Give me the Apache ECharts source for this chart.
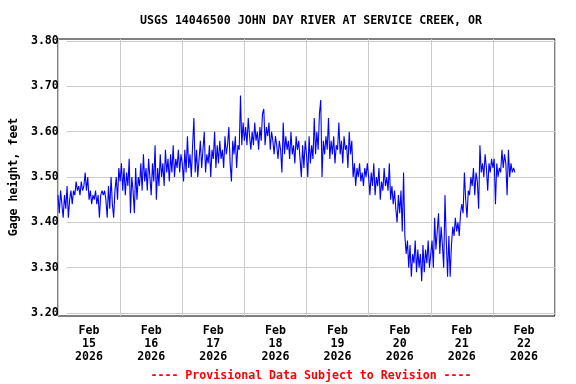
<!DOCTYPE html>
<html>
<head>
<meta charset="utf-8">
<script src="https://cdn.jsdelivr.net/npm/echarts@6/dist/echarts.min.js"></script>
<style>html,body{margin:0;padding:0;background:#fff}#c{width:576px;height:384px}</style>
</head>
<body>
<div id="c"></div>
<script>
// ---- data (gage height, feet), 30-minute readings starting at 00:00 each day ----
const titleText = 'USGS 14046500 JOHN DAY RIVER AT SERVICE CREEK, OR';
const yAxisName = 'Gage height, feet';
const footerText = '---- Provisional Data Subject to Revision ----';
const tickMonth = 'Feb';
const tickDays = ['15', '16', '17', '18', '19', '20', '21', '22'];
const tickYear = '2026';
const STEP_HOURS = 0.5;

const feb15 = [3.46,3.42,3.47,3.44,3.41,3.46,3.43,3.48,3.41,3.45,3.47,3.44,
  3.47,3.46,3.49,3.47,3.48,3.46,3.49,3.47,3.48,3.51,3.47,3.50,
  3.45,3.47,3.44,3.46,3.45,3.47,3.44,3.46,
  3.41,3.46,3.47,3.46,3.47,3.45,
  3.41,3.48,3.43,3.50,3.44,3.41,
  3.47,3.50,3.45,3.52];
const feb16 = [3.49,3.53,3.47,3.52,3.46,3.51,3.48,
  3.54,3.42,3.50,3.47,3.42,3.52,3.45,3.50,
  3.48,3.53,3.47,3.55,3.49,3.52,3.47,3.54,3.50,
  3.46,3.53,3.49,3.57,3.45,
  3.52,3.48,3.55,3.50,3.53,3.48,3.56,3.51,3.54,3.49,
  3.55,3.51,3.57,3.50,3.54,3.52,3.56,3.51,3.55];
const feb17 = [3.53,3.49,3.56,3.51,3.59,3.52,3.55,3.50,3.57,3.63,3.51,
  3.56,3.50,3.54,3.58,3.52,3.56,3.60,3.51,3.55,3.53,3.57,3.50,3.56,3.54,3.60,3.52,
  3.57,3.53,3.58,3.54,3.56,3.52,3.59,3.55,3.57,3.61,3.53,3.49,3.58,3.55,3.59,3.52,3.57,3.56,
  3.68,3.57,3.62];
const feb18 = [3.58,3.61,3.57,3.63,3.59,3.56,3.60,
  3.57,3.62,3.58,3.60,3.56,3.61,3.58,3.64,3.65,3.57,3.61,3.59,3.62,3.56,3.60,3.58,
  3.55,3.59,3.57,3.54,3.58,3.56,3.51,3.62,3.55,3.59,3.56,3.58,3.54,3.60,3.55,3.57,3.53,3.59,3.56,3.58,3.54,
  3.50,3.57,3.52,3.58];
const feb19 = [3.55,3.50,3.59,3.53,
  3.57,3.54,3.63,3.55,3.60,3.56,
  3.64,3.67,3.50,
  3.58,3.55,3.59,3.56,3.63,3.54,3.58,3.55,3.59,3.53,3.57,3.56,3.62,3.55,3.58,
  3.53,3.59,3.56,3.57,3.52,3.60,3.55,3.58,
  3.50,3.53,3.48,3.52,3.50,3.53,3.49,3.51,3.48,3.52,3.50,3.53];
const feb20 = [3.50,3.46,3.51,3.48,3.53,3.46,3.50,3.48,3.52,3.45,
  3.49,3.47,3.52,3.48,3.50,3.47,3.53,3.45,3.48,
  3.44,3.47,3.43,3.40,3.46,
  3.42,3.47,3.38,3.51,
  3.37,3.33,3.36,
  3.30,3.35,3.28,3.33,3.31,3.36,3.29,3.34,3.30,3.33,3.27,3.35,3.29,3.34,3.31,3.36,3.30];
const feb21 = [3.33,3.36,3.30,3.41,3.34,3.38,3.42,3.33,3.39,3.35,3.30,3.46,
  3.36,3.28,3.37,3.28,3.35,
  3.39,3.37,3.41,3.38,3.40,3.37,3.42,
  3.44,3.42,3.51,3.45,3.41,3.47,
  3.46,3.50,3.48,3.52,3.46,3.51,3.49,3.43,3.57,
  3.51,3.53,3.50,3.55,3.52,3.47,3.53,3.51,3.54];
const feb22 = [3.52,3.54,3.44,3.53,3.50,3.52,3.51,3.56,3.52,3.55,3.53,3.46,3.56,3.50,3.53,3.51,3.52,3.51];

const dayReadings = [feb15, feb16, feb17, feb18, feb19, feb20, feb21, feb22];

// build [hours since Feb 15 00:00, value] pairs
const seriesData = [];
dayReadings.forEach(function (arr, d) {
  arr.forEach(function (v, i) { seriesData.push([d * 24 + i * STEP_HOURS, v]); });
});

const categories = tickDays.map(function (d) { return tickMonth + '\n' + d + '\n' + tickYear; });

const FONT = '"DejaVu Sans Mono", "Liberation Mono", monospace';
const chart = echarts.init(document.getElementById('c'), null, { renderer: 'canvas' });
chart.setOption({
  animation: false,
  backgroundColor: '#ffffff',
  title: [
    { text: titleText, left: 306, top: 10, textAlign: 'center',
      textStyle: { fontFamily: FONT, fontWeight: 'bold', fontSize: 11.6, color: '#000' } },
    { text: footerText, left: 306, top: 365, textAlign: 'center',
      textStyle: { fontFamily: FONT, fontWeight: 'bold', fontSize: 11.6, color: '#ff0000' } }
  ],
  grid: [
    { left: 58, right: 21, top: 39, bottom: 68, show: true, borderColor: '#000', borderWidth: 1, containLabel: false },
    { left: 58, right: 21, top: 41, bottom: 71, show: false, containLabel: false }
  ],
  xAxis: [
    { type: 'category', gridIndex: 0, data: categories, boundaryGap: true,
      axisLine: { show: false }, axisTick: { show: false },
      splitLine: { show: true, lineStyle: { color: '#cccccc', width: 1 } },
      axisLabel: { fontFamily: FONT, fontWeight: 'bold', fontSize: 11.6, color: '#000', lineHeight: 12.7, margin: 9, interval: 0 } },
    { type: 'value', gridIndex: 0, min: 0, max: 192, show: false },
    { type: 'value', gridIndex: 1, min: 0, max: 192, show: false }
  ],
  yAxis: [
    { type: 'value', gridIndex: 0, min: 3.1934, max: 3.8044, show: false, splitLine: { show: false } },
    { type: 'value', gridIndex: 1, min: 3.2, max: 3.8, interval: 0.1,
      name: yAxisName, nameLocation: 'middle', nameGap: 44, nameRotate: 90,
      nameTextStyle: { fontFamily: FONT, fontWeight: 'bold', fontSize: 11.6, color: '#000' },
      axisLine: { show: false }, axisTick: { show: false },
      splitLine: { show: true, lineStyle: { color: '#cccccc', width: 1 } },
      axisLabel: { fontFamily: FONT, fontWeight: 'bold', fontSize: 11.6, color: '#000', margin: 8,
        formatter: function (v) { return v.toFixed(2); } } }
  ],
  series: [
    { type: 'line', xAxisIndex: 1, yAxisIndex: 0, data: seriesData, showSymbol: false,
      sampling: null, lineStyle: { color: '#0000ff', width: 1.1 }, z: 5 }
  ]
});
</script>
</body>
</html>
